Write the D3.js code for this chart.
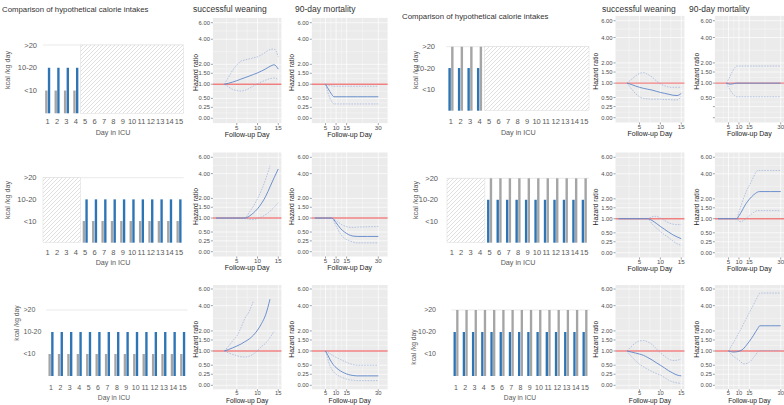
<!DOCTYPE html>
<html>
<head>
<meta charset="utf-8">
<script src="https://cdn.jsdelivr.net/npm/d3@7"></script>
<style>
  body { margin: 0; background: #fff; }
  text { font-family: "Liberation Sans", Arial, sans-serif; }
</style>
</head>
<body>
<svg id="chart" width="784" height="405"></svg>
<script>
// ---------- data ----------
const icuDays = [1, 2, 3, 4, 5, 6, 7, 8, 9, 10, 11, 12, 13, 14, 15];
const intakeLevels = ["<10", "10-20", ">20"];

// days fed / days hatched (not part of the comparison) per scenario row
const fedDaysRow1 = [1, 2, 3, 4];
const fedDaysRow2 = [5, 6, 7, 8, 9, 10, 11, 12, 13, 14, 15];
const fedDaysRow3 = [1, 2, 3, 4, 5, 6, 7, 8, 9, 10, 11, 12, 13, 14, 15];
const hatchDaysRow1 = [5, 6, 7, 8, 9, 10, 11, 12, 13, 14, 15];
const hatchDaysRow2 = [1, 2, 3, 4];
const hatchDaysRow3 = [];

// intake level of the two compared bars (1 = <10, 2 = 10-20, 3 = >20)
const leftPairLevels = [1, 2];   // grey, blue
const rightPairLevels = [2, 3];  // blue, grey

const weanTicks = [5, 10, 15];
const mortTicks = [5, 10, 15, 30];
const hrTicks = [0, 0.25, 0.5, 1, 1.5, 2, 4, 6];

// hazard ratio curves: left half
const lw1Days = [2, 3, 4, 5, 6, 7, 8, 9, 10, 11, 12, 13, 14, 15];
const lw1Hr = [1.0, 1.04, 1.09, 1.15, 1.22, 1.29, 1.36, 1.44, 1.52, 1.62, 1.74, 1.88, 1.97, 1.72];
const lw1Hi = [1.0, 1.3, 1.65, 1.95, 2.2, 2.28, 2.35, 2.42, 2.5, 2.65, 2.85, 3.05, 3.1, 2.5];
const lw1Lo = [1.0, 0.9, 0.8, 0.76, 0.74, 0.77, 0.84, 0.93, 1.02, 1.1, 1.18, 1.24, 1.27, 1.2];

const lm1Days = [5, 6, 7, 8, 9, 15, 20, 25, 30];
const lm1Hr = [1.0, 0.86, 0.73, 0.62, 0.55, 0.55, 0.55, 0.55, 0.55];
const lm1Hi = [1.0, 0.97, 0.95, 0.93, 0.92, 0.92, 0.92, 0.92, 0.92];
const lm1Lo = [1.0, 0.72, 0.52, 0.4, 0.34, 0.34, 0.34, 0.34, 0.34];

const lw2Days = [0, 1, 2, 3, 4, 5, 6, 7, 8, 9, 10, 11, 12, 13, 14, 15];
const lw2Hr = [1, 1, 1, 1, 1, 1, 1, 1.0, 1.08, 1.22, 1.42, 1.72, 2.15, 2.8, 3.6, 4.5];
const lw2Hi = [1, 1, 1, 1, 1, 1, 1, 1.0, 1.25, 1.55, 1.98, 2.6, 3.5, 4.9, null, null];
const lw2Lo = [1, 1, 1, 1, 1, 1, 1, 1.0, 0.95, 0.94, 0.98, 1.05, 1.15, 1.3, 1.5, 1.75];

const lm2Days = [0, 8, 10, 12, 14, 16, 18, 20, 25, 30];
const lm2Hr = [1.0, 1.0, 0.82, 0.62, 0.5, 0.42, 0.38, 0.37, 0.37, 0.37];
const lm2Hi = [1.0, 1.0, 0.9, 0.78, 0.7, 0.66, 0.65, 0.66, 0.67, 0.68];
const lm2Lo = [1.0, 1.0, 0.7, 0.45, 0.32, 0.26, 0.22, 0.2, 0.2, 0.2];

const lw3Days = [2, 3, 4, 5, 6, 7, 8, 9, 10, 11, 12, 13, 14];
const lw3Hr = [1.0, 1.06, 1.13, 1.21, 1.3, 1.42, 1.55, 1.75, 2.05, 2.5, 3.2, 4.7, null];
const lw3Hi = [1.0, 1.2, 1.45, 1.7, 2.2, 2.9, 3.45, 4.5, null, null, null, null, null];
const lw3Lo = [1.0, 0.93, 0.87, 0.82, 0.78, 0.77, 0.8, 0.88, 1.02, 1.2, 1.35, 1.62, 2.0];

const lm3Days = [5, 6, 7, 8, 9, 10, 12, 14, 16, 18, 20, 25, 30];
const lm3Hr = [1.0, 0.85, 0.7, 0.58, 0.49, 0.43, 0.34, 0.28, 0.24, 0.22, 0.21, 0.21, 0.21];
const lm3Hi = [1.0, 0.95, 0.9, 0.85, 0.8, 0.76, 0.69, 0.62, 0.56, 0.52, 0.5, 0.5, 0.5];
const lm3Lo = [1.0, 0.72, 0.5, 0.38, 0.3, 0.25, 0.19, 0.15, 0.12, 0.11, 0.1, 0.1, 0.1];

// hazard ratio curves: right half
const rw1Days = [2, 3, 4, 5, 6, 7, 8, 9, 10, 11, 12, 13, 14, 15];
const rw1Hr = [1.0, 0.95, 0.89, 0.84, 0.8, 0.77, 0.74, 0.7, 0.66, 0.63, 0.6, 0.57, 0.56, 0.63];
const rw1Hi = [1.0, 1.15, 1.3, 1.43, 1.47, 1.38, 1.26, 1.1, 0.97, 0.9, 0.85, 0.84, 0.84, 0.84];
const rw1Lo = [1.0, 0.8, 0.63, 0.52, 0.47, 0.46, 0.45, 0.45, 0.45, 0.44, 0.44, 0.43, 0.43, 0.53];

const rm1Days = [4, 5, 6, 7, 8, 9, 15, 20, 25, 30];
const rm1Hr = [1.0, 0.97, 0.96, 0.97, 0.99, 1.0, 1.0, 1.0, 1.0, 1.0];
const rm1Hi = [1.0, 1.15, 1.35, 1.55, 1.72, 1.82, 1.82, 1.82, 1.82, 1.82];
const rm1Lo = [1.0, 0.85, 0.72, 0.62, 0.55, 0.52, 0.52, 0.52, 0.52, 0.52];

const rw2Days = [0, 1, 2, 3, 4, 5, 6, 7, 8, 9, 10, 11, 12, 13, 14, 15];
const rw2Hr = [1, 1, 1, 1, 1, 1, 1, 1.0, 0.93, 0.82, 0.71, 0.61, 0.52, 0.44, 0.38, 0.33];
const rw2Hi = [1, 1, 1, 1, 1, 1, 1, 1.0, 1.08, 1.1, 1.03, 0.93, 0.84, 0.79, 0.77, 0.77];
const rw2Lo = [1, 1, 1, 1, 1, 1, 1, 1.0, 0.8, 0.66, 0.54, 0.44, 0.36, 0.27, 0.2, 0.16];

const rm2Days = [0, 9, 10, 11, 12, 13, 14, 15, 16, 17, 18, 19, 20, 25, 30];
const rm2Hr = [1.0, 1.0, 1.12, 1.27, 1.45, 1.65, 1.82, 1.98, 2.12, 2.25, 2.36, 2.45, 2.48, 2.48, 2.48];
const rm2Hi = [1.0, 1.0, 1.3, 1.6, 1.95, 2.3, 2.65, 2.95, 3.3, 3.7, 4.1, 4.35, 4.35, 4.35, 4.35];
const rm2Lo = [1.0, 1.0, 0.9, 0.88, 0.92, 0.98, 1.05, 1.12, 1.2, 1.27, 1.33, 1.36, 1.36, 1.36, 1.36];

const rw3Days = [2, 3, 4, 5, 6, 7, 8, 9, 10, 11, 12, 13, 14, 15];
const rw3Hr = [1.0, 0.96, 0.92, 0.88, 0.83, 0.75, 0.67, 0.58, 0.5, 0.42, 0.34, 0.28, 0.23, 0.21];
const rw3Hi = [1.0, 1.18, 1.35, 1.45, 1.47, 1.4, 1.28, 1.1, 0.93, 0.8, 0.7, 0.65, 0.66, 0.72];
const rw3Lo = [1.0, 0.8, 0.65, 0.53, 0.45, 0.38, 0.32, 0.27, 0.23, 0.17, 0.11, 0.07, 0.05, 0.04];

const rm3Days = [5, 6, 7, 8, 9, 10, 11, 12, 13, 14, 15, 16, 17, 18, 19, 20, 25, 30];
const rm3Hr = [1.0, 0.98, 0.96, 0.96, 0.97, 0.99, 1.02, 1.08, 1.18, 1.3, 1.43, 1.58, 1.75, 1.95, 2.15, 2.33, 2.33, 2.33];
const rm3Hi = [1.0, 1.15, 1.3, 1.48, 1.68, 1.9, 2.12, 2.4, 2.7, 3.0, 3.35, 3.7, 4.1, 4.55, 5.0, 5.45, 5.45, 5.45];
const rm3Lo = [1.0, 0.9, 0.82, 0.76, 0.72, 0.66, 0.6, 0.55, 0.54, 0.56, 0.6, 0.66, 0.75, 0.85, 0.96, 1.02, 1.02, 1.02];

// ---------- drawing ----------
const svg = d3.select("#chart");
const BLUE = "#2e75b6", GREY = "#a5a5a5", AXTXT = "#595959";

const defs = svg.append("defs");
const pat = defs.append("pattern").attr("id", "hatch")
    .attr("patternUnits", "userSpaceOnUse").attr("width", 4).attr("height", 4);
pat.append("rect").attr("width", 4).attr("height", 4).attr("fill", "#fff");
pat.append("path").attr("d", "M-1,1 l2,-2 M0,4 l4,-4 M3,5 l2,-2")
    .attr("stroke", "#d2d2d2").attr("stroke-width", 0.7);

function drawBars(o) {
    const g = svg.append("g");
    const x = d3.scaleBand().domain(icuDays).range([o.x0, o.x1]);
    const sub = d3.scaleBand().domain([0, 1]).range([0, x.bandwidth()])
        .paddingInner(0.12).paddingOuter(0.8);
    const y = d3.scaleLinear().domain([0, 3]).range([o.base, o.top]);

    g.append("line").attr("x1", o.x0).attr("x2", o.x1)
        .attr("y1", y(3)).attr("y2", y(3))
        .attr("stroke", "#e3e3e3").attr("stroke-width", 0.8);

    if (o.hatch.length) {
        const a = d3.min(o.hatch), b = d3.max(o.hatch);
        g.append("rect").attr("x", x(a)).attr("y", y(3))
            .attr("width", x(b) + x.bandwidth() - x(a)).attr("height", y(0) - y(3))
            .attr("fill", "url(#hatch)").attr("stroke", "#dcdcdc").attr("stroke-width", 0.5);
    }

    o.fed.forEach(d => {
        o.pair.forEach((lvl, i) => {
            g.append("rect")
                .attr("x", x(d) + sub(i)).attr("width", sub.bandwidth())
                .attr("y", y(lvl)).attr("height", y(0) - y(lvl))
                .attr("fill", o.colors[i]);
        });
    });

    const fs = o.fs || 7.5;
    g.selectAll(".lvl").data(intakeLevels).enter().append("text")
        .attr("x", o.labelX).attr("y", (d, i) => y(i + 1))
        .attr("dy", "0.35em").attr("text-anchor", o.labelAnchor || "end")
        .attr("font-size", fs).attr("fill", AXTXT).text(d => d);

    g.selectAll(".day").data(icuDays).enter().append("text")
        .attr("x", d => x(d) + x.bandwidth() / 2).attr("y", o.dayY)
        .attr("dy", "0.35em").attr("text-anchor", "middle")
        .attr("font-size", fs).attr("fill", AXTXT).text(d => d);

    g.append("text").attr("x", o.axisX).attr("y", o.axisY).attr("dy", "0.35em")
        .attr("text-anchor", "middle").attr("font-size", fs - 0.3).attr("fill", AXTXT)
        .text("Day in ICU");
    g.append("text").attr("transform", `translate(${o.titleX},${o.titleY}) rotate(-90)`)
        .attr("dy", "0.35em").attr("text-anchor", "middle")
        .attr("font-size", fs - 0.3).attr("fill", AXTXT).text("kcal /kg day");
}

function drawHR(o) {
    const g = svg.append("g");
    const x = d3.scaleLinear().domain(o.xDomain).range([o.x0, o.x1]);
    const y = d3.scaleSymlog().constant(1).domain([0, 6]).range([o.y0, o.y6]);
    const pad = o.pad || 4.8;
    const top = o.y6 - pad, bottom = o.y0 + pad;

    g.append("rect").attr("x", o.x0).attr("y", top)
        .attr("width", o.x1 - o.x0).attr("height", bottom - top).attr("fill", "#ebebeb");

    // minor grid (midpoints in transformed space)
    const tf = v => Math.log1p(v);
    const itf = v => Math.expm1(v);
    const yMinor = d3.pairs(hrTicks).map(([a, b]) => itf((tf(a) + tf(b)) / 2));
    const xMinor = d3.pairs(o.xTicks).map(([a, b]) => (a + b) / 2)
        .concat([o.xTicks[0] - (o.xTicks[1] - o.xTicks[0]) / 2]);
    g.selectAll(".ymn").data(yMinor).enter().append("line")
        .attr("x1", o.x0).attr("x2", o.x1).attr("y1", d => y(d)).attr("y2", d => y(d))
        .attr("stroke", "#fff").attr("stroke-width", 0.35);
    g.selectAll(".xmn").data(xMinor).enter().append("line")
        .attr("y1", top).attr("y2", bottom).attr("x1", d => x(d)).attr("x2", d => x(d))
        .attr("stroke", "#fff").attr("stroke-width", 0.35);
    g.selectAll(".ymj").data(hrTicks).enter().append("line")
        .attr("x1", o.x0).attr("x2", o.x1).attr("y1", d => y(d)).attr("y2", d => y(d))
        .attr("stroke", "#fff").attr("stroke-width", 0.7);
    g.selectAll(".xmj").data(o.xTicks).enter().append("line")
        .attr("y1", top).attr("y2", bottom).attr("x1", d => x(d)).attr("x2", d => x(d))
        .attr("stroke", "#fff").attr("stroke-width", 0.7);

    // reference line at HR = 1
    g.append("line").attr("x1", o.x0).attr("x2", o.x1).attr("y1", y(1)).attr("y2", y(1))
        .attr("stroke", "#f08080").attr("stroke-width", 1.4);

    const pts = o.days.map((d, i) => ({ d, hr: o.hr[i], hi: o.hi[i], lo: o.lo[i] }));
    const mk = key => d3.line().defined(p => p[key] != null)
        .x(p => x(p.d)).y(p => y(p[key])).curve(d3.curveMonotoneX);
    ["hi", "lo"].forEach(k => {
        g.append("path").attr("d", mk(k)(pts)).attr("fill", "none")
            .attr("stroke", "#8ea6d6").attr("stroke-width", 0.6)
            .attr("stroke-dasharray", "1.6,1.2");
    });
    g.append("path").attr("d", mk("hr")(pts)).attr("fill", "none")
        .attr("stroke", "#5f86c8").attr("stroke-width", 0.9);

    // axes
    const yLab = o.yLabels || hrTicks.map(d => d.toFixed(2));
    g.selectAll(".ytk").data(hrTicks).enter().append("line")
        .attr("x1", o.x0 - 2).attr("x2", o.x0).attr("y1", d => y(d)).attr("y2", d => y(d))
        .attr("stroke", "#444").attr("stroke-width", 0.5);
    g.selectAll(".ytl").data(hrTicks).enter().append("text")
        .attr("x", o.x0 - 3).attr("y", d => y(d)).attr("dy", "0.35em")
        .attr("text-anchor", "end").attr("font-size", 5.8).attr("fill", "#4d4d4d")
        .text((d, i) => yLab[i]);
    g.selectAll(".xtk").data(o.xTicks).enter().append("line")
        .attr("x1", d => x(d)).attr("x2", d => x(d)).attr("y1", bottom).attr("y2", bottom + 2)
        .attr("stroke", "#444").attr("stroke-width", 0.5);
    g.selectAll(".xtl").data(o.xTicks).enter().append("text")
        .attr("x", d => x(d)).attr("y", bottom + (o.tickOff || 4.6)).attr("dy", "0.35em")
        .attr("text-anchor", "middle").attr("font-size", o.tickFs || 6.2).attr("fill", "#4d4d4d")
        .text(d => d);
    g.append("text").attr("x", (o.x0 + Math.min(o.x1, 784 + 6)) / 2 - (o.x1 > 784 ? 3 : 0))
        .attr("y", bottom + (o.titleOff || 11.5)).attr("dy", "0.35em")
        .attr("text-anchor", "middle").attr("font-size", o.titleFs || 7).attr("fill", "#222")
        .text("Follow-up Day");
    g.append("text").attr("transform", `translate(${o.labX},${(top + bottom) / 2 + 2}) rotate(-90)`)
        .attr("dy", "0.35em").attr("text-anchor", "middle")
        .attr("font-size", 6.8).attr("fill", "#222").text("Hazard ratio");
}

// titles
const titles = [
    { x: 2, y: 9, t: "Comparison of hypothetical calorie intakes", fs: 7.8 },
    { x: 193, y: 9, t: "successful weaning", fs: 8.5 },
    { x: 295, y: 9, t: "90-day mortality", fs: 8.5 },
    { x: 402, y: 16, t: "Comparison of hypothetical calorie intakes", fs: 7.8 },
    { x: 602, y: 9, t: "successful weaning", fs: 8.5 },
    { x: 689, y: 9, t: "90-day mortality", fs: 8.5 }
];
svg.selectAll(".title").data(titles).enter().append("text")
    .attr("x", d => d.x).attr("y", d => d.y).attr("dy", "0.35em")
    .attr("font-size", d => d.fs).attr("fill", "#333").text(d => d.t);

// bar charts
const leftColors = [GREY, BLUE], rightColors = [BLUE, GREY];
drawBars({ x0: 43, x1: 183.7, base: 113.3, top: 45, fed: fedDaysRow1, hatch: hatchDaysRow1,
    pair: leftPairLevels, colors: leftColors, labelX: 37, titleX: 7, titleY: 70,
    dayY: 121.7, axisX: 113, axisY: 132.7 });
drawBars({ x0: 43, x1: 183.7, base: 242.7, top: 177.7, fed: fedDaysRow2, hatch: hatchDaysRow2,
    pair: leftPairLevels, colors: leftColors, labelX: 36.5, titleX: 7.3, titleY: 200,
    dayY: 252.3, axisX: 113, axisY: 262.7 });
drawBars({ x0: 46.3, x1: 187.4, base: 376, top: 310, fed: fedDaysRow3, hatch: hatchDaysRow3,
    pair: leftPairLevels, colors: leftColors, labelX: 23.5, labelAnchor: "start", titleX: 16.7,
    titleY: 323, dayY: 387.3, axisX: 114, axisY: 397.3, fs: 7 });
drawBars({ x0: 446.2, x1: 589, base: 110.7, top: 46.7, fed: fedDaysRow1, hatch: hatchDaysRow1,
    pair: rightPairLevels, colors: rightColors, labelX: 435, titleX: 415, titleY: 70,
    dayY: 121.7, axisX: 518.3, axisY: 132.7 });
drawBars({ x0: 447, x1: 589, base: 242.7, top: 178.3, fed: fedDaysRow2, hatch: hatchDaysRow2,
    pair: rightPairLevels, colors: rightColors, labelX: 438, titleX: 415, titleY: 200,
    dayY: 252.3, axisX: 518, axisY: 262.7 });
drawBars({ x0: 451.4, x1: 589.6, base: 376, top: 310, fed: fedDaysRow3, hatch: hatchDaysRow3,
    pair: rightPairLevels, colors: rightColors, labelX: 436, titleX: 414, titleY: 347,
    dayY: 387.3, axisX: 520, axisY: 397.3, fs: 7 });

// hazard ratio panels
const wDom = [-0.75, 15.75], mDom = [-1.5, 34.4];
const LW = { x0: 212.9, x1: 281.4, xDomain: wDom, xTicks: weanTicks, labX: 196 };
const LM = { x0: 311.8, x1: 387.6, xDomain: mDom, xTicks: mortTicks, labX: 292 };
const RW = { x0: 615.5, x1: 684.4, xDomain: wDom, xTicks: weanTicks, labX: 596 };
const RM = { x0: 714.9, x1: 789.9, xDomain: mDom, xTicks: mortTicks, labX: 697 };
const row1L = { y0: 118.3, y6: 22.7 }, row2L = { y0: 251.7, y6: 157.3 };
const row1R = { y0: 117.7, y6: 20.7 }, row2R = { y0: 252.7, y6: 157.3 };
// bottom row sits at the page edge: tighter panel padding and axis text
const row3 = { y0: 385.3, y6: 289, pad: 4, tickOff: 4, tickFs: 5.8, titleOff: 11.4, titleFs: 6.6 };

drawHR({ ...LW, ...row1L, days: lw1Days, hr: lw1Hr, hi: lw1Hi, lo: lw1Lo });
drawHR({ ...LM, ...row1L, days: lm1Days, hr: lm1Hr, hi: lm1Hi, lo: lm1Lo });
drawHR({ ...LW, ...row2L, days: lw2Days, hr: lw2Hr, hi: lw2Hi, lo: lw2Lo });
drawHR({ ...LM, ...row2L, days: lm2Days, hr: lm2Hr, hi: lm2Hi, lo: lm2Lo });
drawHR({ ...LW, ...row3, days: lw3Days, hr: lw3Hr, hi: lw3Hi, lo: lw3Lo });
drawHR({ ...LM, ...row3, days: lm3Days, hr: lm3Hr, hi: lm3Hi, lo: lm3Lo });
drawHR({ ...RW, ...row1R, days: rw1Days, hr: rw1Hr, hi: rw1Hi, lo: rw1Lo });
drawHR({ ...RM, ...row1R, days: rm1Days, hr: rm1Hr, hi: rm1Hi, lo: rm1Lo,
    yLabels: ["", "", "0.50", "1.00", "1.50", "2.00", "4.00", "6.00"] });
drawHR({ ...RW, ...row2R, days: rw2Days, hr: rw2Hr, hi: rw2Hi, lo: rw2Lo });
drawHR({ ...RM, ...row2R, days: rm2Days, hr: rm2Hr, hi: rm2Hi, lo: rm2Lo });
drawHR({ ...RW, ...row3, days: rw3Days, hr: rw3Hr, hi: rw3Hi, lo: rw3Lo });
drawHR({ ...RM, ...row3, days: rm3Days, hr: rm3Hr, hi: rm3Hi, lo: rm3Lo });
</script>
</body>
</html>
